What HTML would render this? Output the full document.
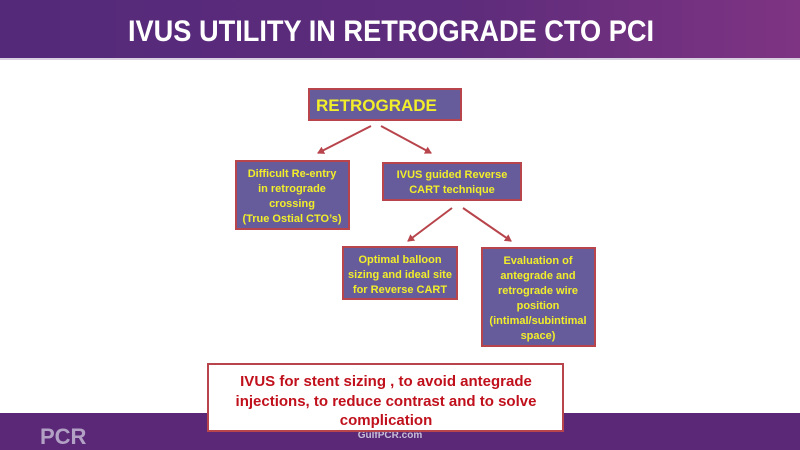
<!DOCTYPE html>
<html><head><meta charset="utf-8"><style>
html,body{margin:0;padding:0;background:#fff;}
svg{display:block;}
text{font-family:"Liberation Sans",sans-serif;font-weight:bold;}
</style></head><body>
<svg width="800" height="450" viewBox="0 0 800 450" xmlns="http://www.w3.org/2000/svg">
<defs>
<linearGradient id="g" x1="0" x2="1" y1="0" y2="0">
<stop offset="0" stop-color="#54297a"/><stop offset="0.6" stop-color="#5f2c7c"/><stop offset="1" stop-color="#7e3482"/>
</linearGradient>
<marker id="a" markerWidth="8" markerHeight="8" refX="6" refY="4" orient="auto" markerUnits="userSpaceOnUse">
<path d="M0,0 L7,4 L0,8 z" fill="#b8444c"/>
</marker>
</defs>
<rect x="0" y="0" width="800" height="58" fill="url(#g)"/>
<rect x="0" y="58" width="800" height="2" fill="#d8d0e0"/>
<text x="391" y="41" font-size="30" fill="#fff" text-anchor="middle" textLength="526" lengthAdjust="spacingAndGlyphs">IVUS UTILITY IN RETROGRADE CTO PCI</text>

<rect x="0" y="413" width="800" height="37" fill="#5a2877"/>
<text x="40" y="444" font-size="22" fill="#c8c0d8" opacity="0.8">PCR</text>
<text x="390" y="438" font-size="10" fill="#c8c0d8" font-weight="normal" text-anchor="middle">GulfPCR.com</text>

<g stroke="#b8444c" stroke-width="2" fill="#665c9c">
<rect x="309" y="89" width="152" height="31"/>
<rect x="236" y="161" width="113" height="68"/>
<rect x="383" y="163" width="138" height="37"/>
<rect x="343" y="247" width="114" height="52"/>
<rect x="482" y="248" width="113" height="98"/>
</g>
<g stroke="#b8444c" stroke-width="2" marker-end="url(#a)">
<line x1="371" y1="126" x2="318" y2="153"/>
<line x1="381" y1="126" x2="431" y2="153"/>
<line x1="452" y1="208" x2="408" y2="241"/>
<line x1="463" y1="208" x2="511" y2="241"/>
</g>
<g fill="#f2ee2a" font-size="11" text-anchor="middle">
<text x="316" y="111" font-size="17" text-anchor="start">RETROGRADE</text>
<text x="292" y="177">Difficult Re-entry</text>
<text x="292" y="192">in retrograde</text>
<text x="292" y="207">crossing</text>
<text x="292" y="222">(True Ostial CTO’s)</text>
<text x="452" y="178">IVUS guided Reverse</text>
<text x="452" y="193">CART technique</text>
<text x="400" y="263">Optimal balloon</text>
<text x="400" y="278">sizing and ideal site</text>
<text x="400" y="293">for Reverse CART</text>
<text x="538" y="264">Evaluation of</text>
<text x="538" y="279">antegrade and</text>
<text x="538" y="294">retrograde wire</text>
<text x="538" y="309">position</text>
<text x="538" y="324">(intimal/subintimal</text>
<text x="538" y="339">space)</text>
</g>
<rect x="208" y="364" width="355" height="67" fill="#fff" stroke="#b8444c" stroke-width="2"/>
<g fill="#c0101c" font-size="15" text-anchor="middle">
<text x="386" y="386">IVUS for stent sizing , to avoid antegrade</text>
<text x="386" y="406">injections, to reduce contrast and to solve</text>
<text x="386" y="425">complication</text>
</g>
</svg>
</body></html>
